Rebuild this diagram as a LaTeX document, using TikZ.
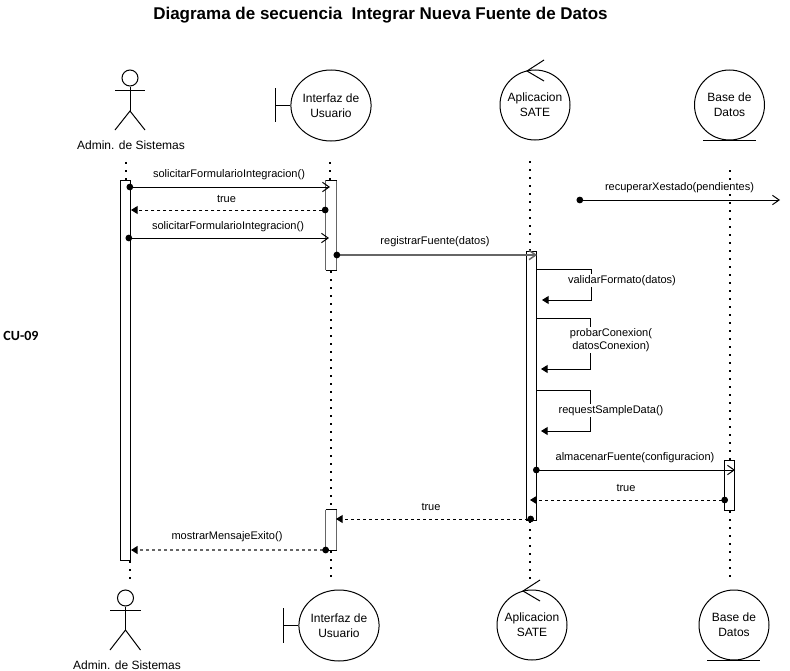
\documentclass[tikz,border=0pt]{standalone}
\usepackage{fontspec}
\setmainfont{Liberation Sans}
\newfontfamily\cufont{Carlito}
\usetikzlibrary{arrows.meta,shapes.geometric}

\tikzset{
  x=0.75pt,y=-0.75pt,
  every path/.style={line width=0.75pt},
  life/.style={line width=1.2pt,dash pattern=on 1.2pt off 4.8pt},
  bar/.style={draw,fill=white,minimum width=7.5pt,inner sep=0pt},
  barGrey/.style={fill=white,minimum width=7.5pt,inner sep=0pt},
  edgeGrey/.style={draw=black!60,line width=1.1pt},
  lab/.style={font=\fontsize{8.27}{10}\selectfont,inner sep=1pt,align=center},
  who/.style={font=\fontsize{9}{11.25}\selectfont,inner sep=0pt,align=center},
  low/.style={execute at begin node={\vspace*{2.5pt}}},
  oval/.style={who,low,draw,ellipse,minimum width=60pt,minimum height=53.25pt},
  round/.style={who,low,draw,circle,minimum size=52.5pt},
  call/.style={{Circle[length=5pt,width=5pt,color=black]}-{Straight Barb[length=5pt,width=7pt]}},
  back/.style={dashed,dash pattern=on 2.25pt off 2.25pt,{Circle[length=5pt,width=5pt,color=black]}-{Triangle[length=5pt,width=6pt,color=black]}},
  self/.style={-{Triangle[length=5pt,width=6pt]}},
}

\begin{document}
\begin{tikzpicture}
  \useasboundingbox (0,0) rectangle (790,671);

  \node[font=\bfseries\fontsize{12.75}{15}\selectfont] (Title) at (380.5,15.5) {Diagrama de secuencia\ \ Integrar Nueva Fuente de Datos};
  \node[font=\cufont\bfseries\fontsize{10.5}{12}\selectfont] (CU) at (21,336) {CU-09};

  % top row
  \node[draw,circle,minimum size=12pt,inner sep=0pt] (HeadA) at (130,78) {};
  \coordinate (HipA) at (130,111);
  \coordinate (ArmAl) at (115,90);
  \coordinate (ArmAr) at (145,90);
  \coordinate (FootAl) at (115,130);
  \coordinate (FootAr) at (145,130);
  \draw (HeadA) -- (HipA);
  \draw (ArmAl) -- (ArmAr);
  \draw (FootAl) -- (HipA) -- (FootAr);
  \node[who] (Admin) at (131,145) {Admin. de Sistemas};

  \node[oval] (Ui) at (331,105.5) {Interfaz de\\Usuario};
  \coordinate (UiBar) at (275,105.5);
  \coordinate (UiBarT) at (275,88);
  \coordinate (UiBarB) at (275,122);
  \draw (UiBarT) -- (UiBarB);
  \draw (UiBar) -- (Ui);

  \node[round] (App) at (535,105) {Aplicacion\\SATE};
  \coordinate (AppTip) at (527,71);
  \coordinate (AppU) at (544,60);
  \coordinate (AppD) at (544,81);
  \draw (AppU) -- (AppTip) -- (AppD);

  \node[round] (Db) at (729.5,105) {Base de\\Datos};
  \coordinate (DbL) at (703,140);
  \coordinate (DbR) at (756,140);
  \draw (DbL) -- (DbR);

  % bottom row
  \node[draw,circle,minimum size=12pt,inner sep=0pt] (HeadB) at (125.5,598) {};
  \coordinate (HipB) at (125.5,630);
  \coordinate (ArmBl) at (110,610);
  \coordinate (ArmBr) at (140.5,610);
  \coordinate (FootBl) at (110,650);
  \coordinate (FootBr) at (140.5,650);
  \draw (HeadB) -- (HipB);
  \draw (ArmBl) -- (ArmBr);
  \draw (FootBl) -- (HipB) -- (FootBr);
  \node[who] (AdminB) at (127,665) {Admin. de Sistemas};

  \node[oval] (UiB) at (339,625.5) {Interfaz de\\Usuario};
  \coordinate (UiBBar) at (283,625.5);
  \coordinate (UiBBarT) at (283,608);
  \coordinate (UiBBarB) at (283,643);
  \draw (UiBBarT) -- (UiBBarB);
  \draw (UiBBar) -- (UiB);

  \node[round] (AppB) at (532,625) {Aplicacion\\SATE};
  \coordinate (AppBTip) at (523,591);
  \coordinate (AppBU) at (540,580);
  \coordinate (AppBD) at (540,601);
  \draw (AppBU) -- (AppBTip) -- (AppBD);

  \node[round] (DbB) at (734,625) {Base de\\Datos};
  \coordinate (DbBL) at (707,660);
  \coordinate (DbBR) at (760,660);
  \draw (DbBL) -- (DbBR);

  % lifelines
  \coordinate (LifeA1) at (126,162);
  \coordinate (LifeA2) at (126,181);
  \coordinate (LifeA3) at (130,561);
  \coordinate (LifeA4) at (130,581);
  \coordinate (LifeU1) at (330,162);
  \coordinate (LifeU2) at (330,181);
  \coordinate (LifeU3) at (331,271);
  \coordinate (LifeU4) at (331,510);
  \coordinate (LifeU5) at (331,551);
  \coordinate (LifeU6) at (331,581);
  \coordinate (LifeS1) at (530,161);
  \coordinate (LifeS2) at (530,251);
  \coordinate (LifeS3) at (530,521);
  \coordinate (LifeS4) at (530,581);
  \coordinate (LifeD1) at (730,170);
  \coordinate (LifeD2) at (730,460);
  \coordinate (LifeD3) at (730,511);
  \coordinate (LifeD4) at (730,581);
  \draw[life] (LifeA1) -- (LifeA2);
  \draw[life] (LifeA3) -- (LifeA4);
  \draw[life] (LifeU1) -- (LifeU2);
  \draw[life] (LifeU3) -- (LifeU4);
  \draw[life] (LifeU5) -- (LifeU6);
  \draw[life] (LifeS1) -- (LifeS2);
  \draw[life] (LifeS3) -- (LifeS4);
  \draw[life] (LifeD1) -- (LifeD2);
  \draw[life] (LifeD3) -- (LifeD4);

  % activations
  \node[bar,minimum height=285pt] (BarA) at (125.75,370.5) {};
  \node[barGrey,minimum height=67pt] (BarU) at (331,225.25) {};
  \node[barGrey,minimum height=30pt] (BarU2) at (331,530) {};
  \node[bar,minimum height=201.75pt] (BarS) at (531.5,385.5) {};
  \node[bar,minimum height=37.5pt] (BarD) at (729.75,485) {};
  \draw[edgeGrey] (BarU.north west) -- (BarU.south west);
  \draw[edgeGrey] (BarU.north east) -- (BarU.south east);
  \draw (BarU.north west) -- (BarU.north east);
  \draw (BarU.south west) -- (BarU.south east);
  \draw[edgeGrey] (BarU2.north west) -- (BarU2.south west);
  \draw[edgeGrey] (BarU2.north east) -- (BarU2.south east);
  \draw (BarU2.north west) -- (BarU2.north east);
  \draw (BarU2.south west) -- (BarU2.south east);

  % messages
  \coordinate (M1a) at (126.5,187);
  \coordinate (M1b) at (330,187);
  \draw[call] (M1a) -- (M1b);
  \node[lab] (L1) at (229,175) {solicitarFormularioIntegracion()};

  \coordinate (M2a) at (328.5,210);
  \coordinate (M2b) at (131,210);
  \draw[back] (M2a) -- (M2b);
  \node[lab] (L2) at (226.5,198.5) {true};

  \coordinate (M3a) at (125.5,238);
  \coordinate (M3b) at (329,238);
  \draw[call] (M3a) -- (M3b);
  \node[lab] (L3) at (228,226.5) {solicitarFormularioIntegracion()};

  \coordinate (M4a) at (333.5,255);
  \coordinate (M4b) at (537,255);
  \draw[call,draw=black!60,line width=1.1pt] (M4a) -- (M4b);
  \node[lab] (L4) at (435,242) {registrarFuente(datos)};

  \coordinate (M5a) at (576.5,200);
  \coordinate (M5b) at (780,200);
  \draw[call] (M5a) -- (M5b);
  \node[lab,fill=white] (L5) at (679.5,188) {recuperarXestado(pendientes)};

  \coordinate (S1a) at (537,269);
  \coordinate (S1b) at (591,269);
  \coordinate (S1c) at (591,300);
  \coordinate (S1d) at (542,300);
  \draw[self] (S1a) -- (S1b) -- (S1c) -- (S1d);
  \node[lab,fill=white] (LS1) at (622,280.5) {validarFormato(datos)};

  \coordinate (S2a) at (536,318);
  \coordinate (S2b) at (590,318);
  \coordinate (S2c) at (590,369);
  \coordinate (S2d) at (541,369);
  \draw[self] (S2a) -- (S2b) -- (S2c) -- (S2d);
  \node[lab,fill=white] (LS2) at (611,340) {probarConexion(\\datosConexion)};

  \coordinate (S3a) at (536,390);
  \coordinate (S3b) at (590,390);
  \coordinate (S3c) at (590,431);
  \coordinate (S3d) at (541,431);
  \draw[self] (S3a) -- (S3b) -- (S3c) -- (S3d);
  \node[lab,fill=white] (LS3) at (611,410.5) {requestSampleData()};

  \coordinate (M6a) at (533,470);
  \coordinate (M6b) at (735,470);
  \draw[call] (M6a) -- (M6b);
  \node[lab] (L6) at (635,457.5) {almacenarFuente(configuracion)};

  \coordinate (M7a) at (728,500);
  \coordinate (M7b) at (530,500);
  \draw[back] (M7a) -- (M7b);
  \node[lab] (L7) at (626,487.5) {true};

  \coordinate (M8a) at (534,519);
  \coordinate (M8b) at (336,519);
  \draw[back] (M8a) -- (M8b);
  \node[lab] (L8) at (431,507) {true};

  \coordinate (M9a) at (329,550);
  \coordinate (M9b) at (131,550);
  \draw[back,draw=black!60,line width=1.1pt] (M9a) -- (M9b);
  \node[lab] (L9) at (227,537) {mostrarMensajeExito()};
\end{tikzpicture}
\end{document}
